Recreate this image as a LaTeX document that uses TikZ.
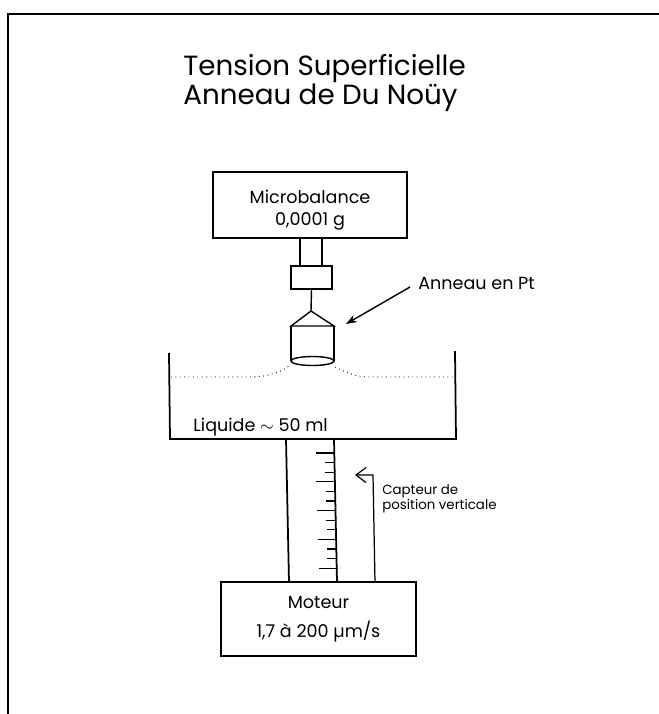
\documentclass[tikz,border=0pt]{standalone}
\usepackage{fontspec}
\setmainfont{Poppins}
\usetikzlibrary{arrows.meta,positioning}
\tikzset{
  box/.style={draw, line width=1pt, align=center, inner sep=0pt},
  wall/.style={line width=1pt},
  thinline/.style={line width=0.8pt},
  arrow/.style={-{Stealth[length=2.2mm,width=1.6mm]}, line width=0.8pt},
  openarrow/.style={-{Straight Barb[length=2mm,width=3mm]}, line width=0.7pt},
  surface/.style={line width=0.5pt, dotted},
  label/.style={inner sep=0pt, align=left, anchor=west}
}
\begin{document}
\begin{tikzpicture}[x=0.02cm, y=-0.02cm]
  \useasboundingbox (0,0) rectangle (659,714);
  % cadre
  \draw[wall] (8,714) -- (8,14) -- (659,14);

  \node[label, font=\fontsize{15.8}{16.5}\selectfont] (title) at (183,83) {Tension Superficielle\\Anneau de Du Noüy};

  \node[box, minimum width=3.88cm, minimum height=1.32cm, font=\fontsize{10}{12.5}\selectfont] (balance) at (310,205) {\rule{0pt}{13pt}Microbalance\\0,0001 g};
  \node[box, minimum width=0.82cm, minimum height=0.46cm] (clamp) at (311.5,277.5) {};
  \coordinate (apex) at (311,311);
  \coordinate (ringl) at (291,326);
  \coordinate (ringr) at (334,326);
  \coordinate (ringbl) at (291,361);
  \coordinate (ringbr) at (334,361);

  \draw[thinline] (300,238) -- (300,266);
  \draw[thinline] (322,238) -- (322,266);
  \draw[thinline] (clamp.south) -- (apex);
  \draw[thinline] (ringl) -- (apex) -- (ringr) -- cycle;
  \draw[thinline] (ringl) -- (ringbl) (ringr) -- (ringbr);
  \draw[thinline] (312.5,361) ellipse (21.5 and 4.5);

  \node[label, font=\fontsize{10}{12}\selectfont] (ringlabel) at (418,283) {Anneau en Pt};
  \coordinate (ringtip) at (346,324);
  \draw[arrow] (ringlabel.west) ++(-8,4) -- (ringtip);

  % cuve
  \draw[wall] (169,353) -- (170,439) -- (456,439) -- (455,351);
  \draw[surface] (171,377) -- (250,377) .. controls (268,377) and (282,372) .. (290,365);
  \draw[surface] (335,367) .. controls (345,372) and (355,377) .. (370,377) -- (453,377);
  \node[label, font=\fontsize{10}{12}\selectfont] (liquid) at (193,427) {Liquide $\sim$ 50 ml};

  % colonne
  \node[box, minimum width=3.9cm, minimum height=1.48cm, font=\fontsize{10}{16.5}\selectfont] (motor) at (318.5,619) {Moteur\\1,7 à 200 µm/s};
  \draw[wall] (286,439) -- (289,582);
  \draw[wall] (334,439) -- (337,582);
  \foreach \i in {0,...,12} {
    \pgfmathsetmacro{\ty}{453+9.6*\i}
    \pgfmathsetmacro{\tx}{334+3*\i/12+0.6}
    \pgfmathsetmacro{\tl}{mod(\i,3)==0 ? 19 : 10}
    \draw[line width=0.6pt] (\tx,\ty) -- ++(-\tl,0);
  }

  % capteur
  \coordinate (sensorbase) at (375,582);
  \coordinate (sensorbend) at (373,475);
  \coordinate (sensortip) at (355,475);
  \draw[openarrow] (sensorbase) -- (sensorbend) -- (sensortip);
  \node[label, font=\fontsize{7.6}{8.5}\selectfont] (sensorlabel) at (382,499) {Capteur de\\position verticale};
\end{tikzpicture}
\end{document}
